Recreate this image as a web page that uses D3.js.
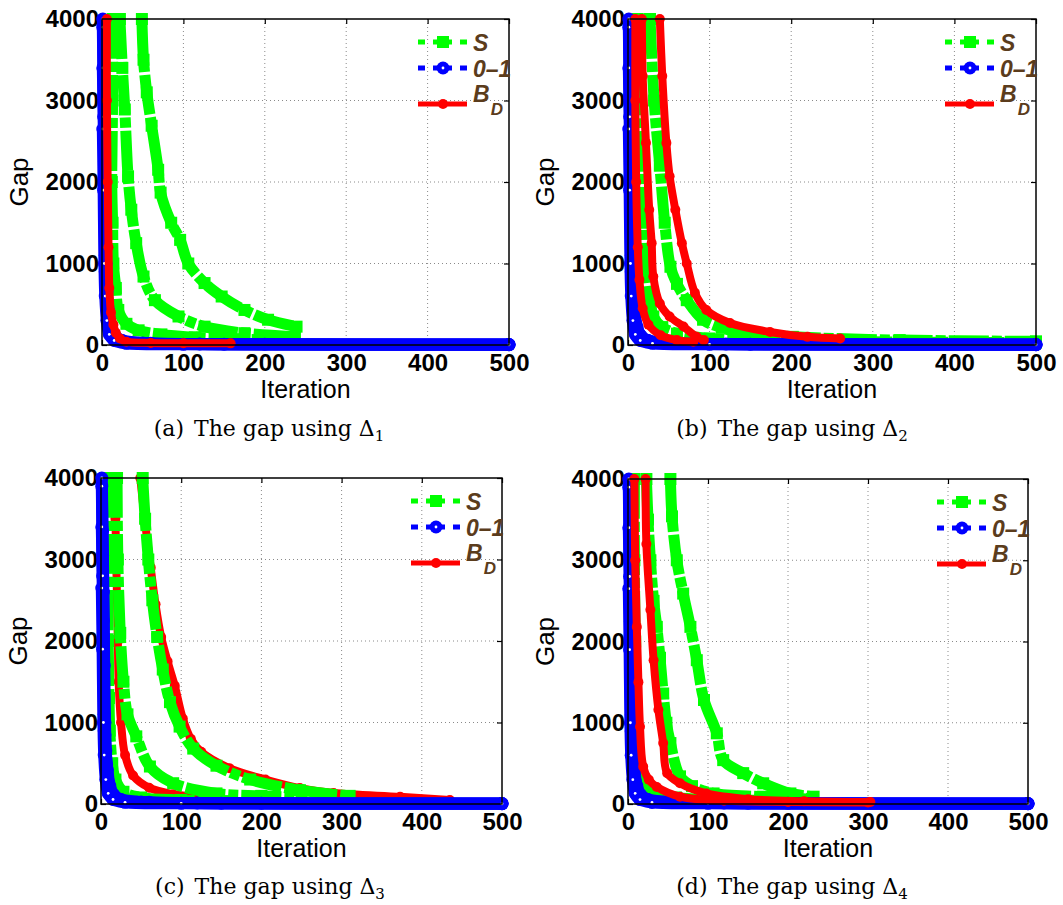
<!DOCTYPE html>
<html>
<head>
<meta charset="utf-8">
<script src="https://cdn.jsdelivr.net/npm/d3@7"></script>
<style>
body { margin: 0; background: #fff; }
</style>
</head>
<body>
<svg id="fig" width="1063" height="905"></svg>
<script>
// tick values, same on every panel
var xTicks = [0, 100, 200, 300, 400, 500];
var yTicks = [0, 1000, 2000, 3000, 4000];
var legendNames = ["S", "0\u20131", "B"];   // last one gets the D subscript
var captionLetters = ["a", "b", "c", "d"];
var captionIndex = ["1", "2", "3", "4"];

// 0-1 runs (they look the same in all four panels): [iteration, gap]
var zeroOne = [
  [[1,4000],[2,3350],[3,2600],[4,1700],[5,1000],[6,650],[8,420],[11,220],[16,110],[25,55],[50,25],[120,12],[500,6]],
  [[1,3900],[2,3050],[3,2250],[4,1100],[5,850],[7,480],[10,250],[15,120],[25,50],[60,20],[200,10],[500,5]],
  [[1,3400],[2,2800],[3,2050],[4,900],[6,500],[9,250],[14,110],[22,50],[45,22],[150,10],[500,4]],
  [[1,2650],[2,1900],[3,1000],[4,600],[6,300],[9,130],[15,55],[30,20],[100,8],[500,3]]
];

// (a) delta 1
var sA = [
  [[49,4000],[51,3500],[55,3100],[61,2690],[69,2150],[72,1870],[85,1500],[96,1290],[106,1000],[126,760],[147,595],[175,430],[204,310],[239,225]],
  [[22,4000],[25,3400],[28,2890],[32,2070],[36,1660],[42,1250],[51,840],[65,550],[94,350],[126,225],[175,145],[237,100]],
  [[13,4000],[13,3000],[12,2000],[13,1500],[14,1000],[17,700],[20,430],[30,260],[45,180],[73,130],[114,95],[170,70],[235,55]]
];
var bdA = [
  [[6,4000],[6,3000],[7,2000],[8,1200],[9,700],[11,400],[14,250],[17,150],[22,80],[30,40],[60,25],[100,22],[158,20]]
];

// (b) delta 2
var sB = [
  [[27,4000],[32,3000],[39,2200],[45,1500],[52,960],[60,750],[72,550],[92,310],[115,210],[141,145],[202,100],[333,60],[500,45]],
  [[12,4000],[15,3000],[19,2200],[21,1500],[23,960],[27,600],[31,350],[42,220],[60,140],[100,80],[200,50],[350,35],[500,30]]
];
var bdB = [
  [[39,4000],[42,3300],[47,2480],[51,2070],[58,1660],[66,1250],[72,1000],[82,640],[96,430],[125,270],[174,160],[220,100],[260,80]],
  [[17,4000],[18,3300],[22,2480],[26,1660],[29,1250],[31,840],[39,510],[51,350],[68,226],[84,100],[93,60]],
  [[9,4000],[9,3000],[10,2000],[12,1200],[14,800],[18,450],[25,250],[40,120],[60,60],[80,40]]
];

// (c) delta 3
var sC = [
  [[52,4000],[55,3500],[59,3000],[64,2500],[70,2050],[77,1650],[86,1250],[98,950],[115,680],[144,470],[186,300],[248,170],[310,100]],
  [[20,4000],[21,3000],[24,2100],[28,1500],[33,1100],[44,830],[61,460],[90,255],[144,130],[200,100],[250,80]],
  [[8,4000],[9,3000],[9,2000],[10,1300],[11,900],[14,500],[18,300],[28,150],[50,80],[100,50],[160,35]]
];
var bdC = [
  [[49,4000],[55,3450],[62,2900],[68,2450],[75,2050],[83,1750],[92,1450],[102,1050],[112,800],[125,640],[160,440],[205,300],[248,195],[290,135],[373,88],[435,50]],
  [[17,4000],[18,3500],[19,3000],[20,2500],[21,2000],[22,1500],[25,1000],[30,600],[40,350],[60,200],[90,120],[130,80]]
];

// (d) delta 4
var sD = [
  [[53,4000],[55,3540],[61,3000],[69,2590],[78,2180],[86,1770],[95,1280],[111,870],[119,540],[144,380],[169,255],[203,130],[232,90]],
  [[23,4000],[25,3500],[28,3000],[32,2500],[36,2180],[40,1800],[44,1360],[48,1000],[53,750],[65,340],[80,220],[107,130],[169,90],[230,60]],
  [[8,4000],[8,3000],[9,2000],[10,1200],[12,700],[16,350],[22,200],[35,120],[60,80],[100,50],[150,40]]
];
var bdD = [
  [[22,4000],[23,3200],[28,2390],[32,1770],[38,1160],[44,750],[49,380],[65,255],[98,130],[150,60],[220,35],[303,25]],
  [[8,4000],[9,3000],[11,2180],[13,1500],[15,950],[19,460],[26,300],[36,210],[65,90],[120,40],[200,25],[300,20]]
];

var panels = [
  {box: [102, 509, 19, 345],  cap: [269, 436], s: sA, zo: zeroOne, bd: bdA, order: ["s", "zo", "bd"]},
  {box: [628, 1036, 19, 345], cap: [792, 436], s: sB, zo: zeroOne, bd: bdB, order: ["s", "zo", "bd"]},
  {box: [101, 502, 478, 804], cap: [270, 894], s: sC, zo: zeroOne, bd: bdC, order: ["bd", "s", "zo"]},
  {box: [628, 1028, 479, 804], cap: [792, 894], s: sD, zo: zeroOne, bd: bdD, order: ["s", "zo", "bd"]}
];

var styles = {
  s:  {color: "#00ff00", width: 11, dash: "40,3,10,3"},
  zo: {color: "#0000ff", width: 12, dash: null},
  bd: {color: "#ff0000", width: 8,  dash: null}
};
var legendBrown = "#5b3c1c";
var sans = "'Liberation Sans', Arial, Helvetica, sans-serif";

var svg = d3.select("#fig");

function marker(g, kind, cx, cy) {
  var st = styles[kind];
  if (kind == "s") {
    g.append("rect").attr("x", cx - 6).attr("y", cy - 6).attr("width", 12).attr("height", 12).attr("fill", st.color);
  } else if (kind == "zo") {
    g.append("circle").attr("cx", cx).attr("cy", cy).attr("r", 6.5).attr("fill", st.color);
    g.append("circle").attr("cx", cx).attr("cy", cy).attr("r", 1.4).attr("fill", "#fff");
  } else {
    g.append("circle").attr("cx", cx).attr("cy", cy).attr("r", 5).attr("fill", st.color);
  }
}

function drawSeries(g, runs, kind, x, y) {
  var st = styles[kind];
  var line = d3.line().x(function(d){ return x(d[0]); }).y(function(d){ return y(d[1]); })
    .curve(d3.curveCatmullRom.alpha(0.5));
  runs.forEach(function(run){
    g.append("path").datum(run).attr("d", line)
      .attr("fill", "none").attr("stroke", st.color).attr("stroke-width", st.width)
      .attr("stroke-dasharray", st.dash).attr("stroke-linejoin", "round")
      .attr("stroke-linecap", kind == "s" ? "butt" : "round");
    var mg = g.append("g");
    run.forEach(function(d){ marker(mg, kind, x(d[0]), y(d[1])); });
  });
}

function drawPanel(p, i) {
  var left = p.box[0], right = p.box[1], top = p.box[2], bottom = p.box[3];
  var x = d3.scaleLinear().domain([0, 500]).range([left, right]);
  var y = d3.scaleLinear().domain([0, 4000]).range([bottom, top]);
  var g = svg.append("g");

  // dotted grid
  var grid = g.append("g").attr("stroke", "#8a8a8a").attr("stroke-width", 1).attr("stroke-dasharray", "1,3");
  xTicks.slice(1, -1).forEach(function(t){
    grid.append("line").attr("x1", x(t)).attr("x2", x(t)).attr("y1", top).attr("y2", bottom);
  });
  yTicks.slice(1, -1).forEach(function(t){
    grid.append("line").attr("x1", left).attr("x2", right).attr("y1", y(t)).attr("y2", y(t));
  });

  // axes: inward ticks on all four sides, labels on bottom and left
  var fmt = d3.format("d");
  var ax = [
    {a: d3.axisBottom(x).tickValues(xTicks).tickFormat(fmt).tickSizeInner(-5).tickSizeOuter(0).tickPadding(9), t: "translate(0," + bottom + ")"},
    {a: d3.axisLeft(y).tickValues(yTicks).tickFormat(fmt).tickSizeInner(-5).tickSizeOuter(0).tickPadding(3), t: "translate(" + left + ",0)"},
    {a: d3.axisTop(x).tickValues(xTicks).tickSizeInner(-5).tickSizeOuter(0).tickFormat(""), t: "translate(0," + top + ")"},
    {a: d3.axisRight(y).tickValues(yTicks).tickSizeInner(-5).tickSizeOuter(0).tickFormat(""), t: "translate(" + right + ",0)"}
  ];
  ax.forEach(function(o){
    var ag = g.append("g").attr("transform", o.t).call(o.a);
    ag.select(".domain").remove();
    ag.selectAll("line").attr("stroke", "#000").attr("stroke-width", 1.2);
    ag.selectAll("text").style("font-family", sans)
      .attr("font-size", 24).attr("font-weight", "bold").attr("fill", "#000");
  });

  // curves
  var cg = g.append("g");
  p.order.forEach(function(k){ drawSeries(cg, p[k], k, x, y); });

  // box
  g.append("rect").attr("x", left).attr("y", top).attr("width", right - left).attr("height", bottom - top)
    .attr("fill", "none").attr("stroke", "#000").attr("stroke-width", 1.5);

  // axis titles
  g.append("text").attr("x", (left + right) / 2).attr("y", bottom + 53).attr("text-anchor", "middle")
    .style("font-family", sans).attr("font-size", 25).text("Iteration");
  g.append("text").attr("transform", "translate(" + (left - 74) + "," + ((top + bottom) / 2) + ") rotate(-90)")
    .attr("text-anchor", "middle").style("font-family", sans).attr("font-size", 26).text("Gap");

  // legend
  var kinds = ["s", "zo", "bd"];
  var lineY = [top + 23, top + 49, top + 85];
  var textY = [top + 32, top + 58, top + 83];
  kinds.forEach(function(k, j){
    var st = styles[k];
    g.append("line").attr("x1", right - 91).attr("x2", right - 42).attr("y1", lineY[j]).attr("y2", lineY[j])
      .attr("stroke", st.color).attr("stroke-width", 5)
      .attr("stroke-dasharray", k == "bd" ? null : "7,8,19,8,7");
    marker(g, k, right - 66, lineY[j]);
    var t = g.append("text").attr("x", right - 36).attr("y", textY[j]).style("font-family", sans)
      .attr("font-size", 23).attr("font-weight", "bold").attr("font-style", "italic").attr("fill", legendBrown);
    t.append("tspan").text(legendNames[j]);
    if (k == "bd") t.append("tspan").attr("dx", 1).attr("dy", 13).attr("font-size", 17).text("D");
  });

  // caption
  var c = svg.append("text").attr("x", p.cap[0]).attr("y", p.cap[1]).attr("text-anchor", "middle")
    .style("font-family", "'DejaVu Serif', serif").attr("font-size", 22).attr("fill", "#000");
  c.append("tspan").text("(" + captionLetters[i] + ")");
  c.append("tspan").attr("dx", 10).text("The gap using \u0394");
  c.append("tspan").attr("dy", 5).attr("font-size", 15).text(captionIndex[i]);
}

panels.forEach(drawPanel);
</script>
</body>
</html>
